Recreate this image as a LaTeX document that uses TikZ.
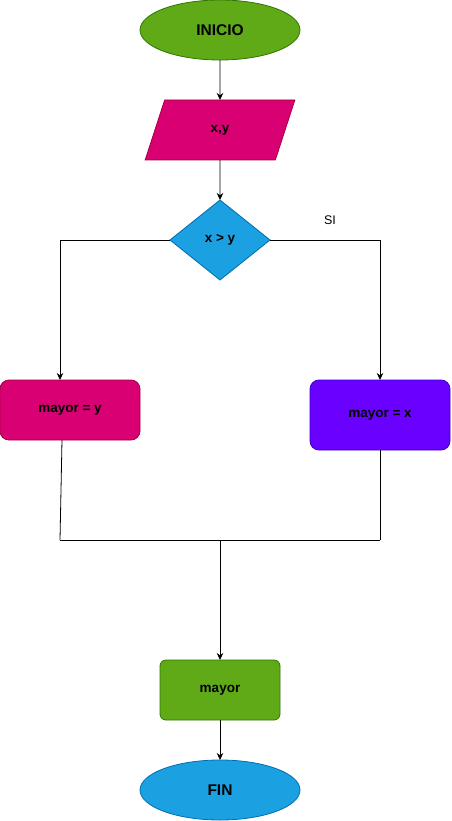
\documentclass[tikz,border=0pt]{standalone}
\usepackage{fontspec}
\setmainfont{Liberation Sans}
\usetikzlibrary{shapes.geometric,arrows.meta}
\definecolor{gfill}{HTML}{60A917}
\definecolor{gline}{HTML}{2D7600}
\definecolor{pfill}{HTML}{D80073}
\definecolor{pline}{HTML}{A50040}
\definecolor{bfill}{HTML}{1BA1E2}
\definecolor{bline}{HTML}{006EAF}
\definecolor{vfill}{HTML}{6A00FF}
\definecolor{vline}{HTML}{3700CC}
\tikzset{
  base/.style={inner sep=0pt, outer sep=0pt, line width=0.8pt, font=\fontsize{13.5}{15}\selectfont\bfseries},
  term/.style={base, ellipse, minimum width=160pt, minimum height=60pt, font=\fontsize{15.5}{17}\selectfont\bfseries},
  procbox/.style={base, rectangle, rounded corners=9pt, minimum width=140pt},
  conn/.style={line width=0.8pt, -{Stealth[length=7pt,width=6.5pt]}},
  plain/.style={line width=0.8pt}
}
\begin{document}
\begin{tikzpicture}[x=1pt,y=-1pt]
\useasboundingbox (0,0) rectangle (451,821);
\node[term, fill=gfill, draw=gline] (start) at (220,30) {INICIO};
\node[base, trapezium, trapezium left angle=71.565, trapezium right angle=108.435, trapezium stretches=true, minimum width=150pt, minimum height=60pt, fill=pfill, draw=pline] (io) at (220,130) {x,y};
\node[base, diamond, minimum width=100pt, minimum height=80pt, fill=bfill, draw=bline] (dec) at (220,240) {x > y};
\node[procbox, minimum height=60pt, fill=pfill, draw=pline] (my) at (70,410) {mayor = y};
\node[procbox, minimum height=70pt, fill=vfill, draw=vline] (mx) at (380,415) {mayor = x};
\node[base, rectangle, rounded corners=6pt, minimum width=120pt, minimum height=60pt, fill=gfill, draw=gline] (res) at (220,690) {mayor};
\node[term, fill=bfill, draw=bline] (fin) at (220,790) {FIN};
\node[font=\fontsize{12.5}{14}\selectfont] (si) at (330,220) {SI};
\coordinate (jl) at (60,540);
\coordinate (jr) at (380,540);
\coordinate (jm) at (220,540);
\draw[conn] (start.south) -- (io.north);
\draw[conn] (io.south) -- (dec.north);
\draw[conn] (dec.west) -| ([xshift=-10pt]my.north);
\draw[conn] (dec.east) -| (mx.north);
\draw[plain] ([xshift=-8pt]my.south) -- (jl);
\draw[plain] (mx.south) -- (jr);
\draw[plain] (jl) -- (jr);
\draw[conn] (jm) -- (res.north);
\draw[conn] (res.south) -- (fin.north);
\end{tikzpicture}
\end{document}
